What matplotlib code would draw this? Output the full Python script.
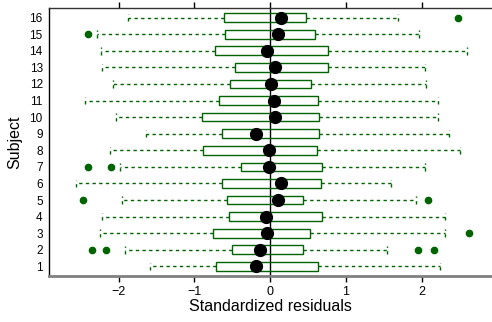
import matplotlib
matplotlib.use("Agg")
import matplotlib.pyplot as plt

subjects = list(range(1, 17))
whislo = [-1.59, -1.92, -2.25, -2.22, -1.95, -2.56, -1.98, -2.11, -1.64, -2.04, -2.45, -2.07, -2.22, -2.23, -2.29, -1.88]
q1     = [-0.71, -0.51, -0.76, -0.54, -0.57, -0.64, -0.38, -0.89, -0.64, -0.90, -0.68, -0.53, -0.46, -0.73, -0.60, -0.61]
med    = [-0.18, -0.13, -0.04, -0.05, 0.10, 0.15, -0.01, -0.01, -0.19, 0.06, 0.05, 0.01, 0.07, -0.04, 0.10, 0.14]
q3     = [0.63, 0.43, 0.53, 0.69, 0.43, 0.67, 0.69, 0.62, 0.65, 0.65, 0.63, 0.54, 0.76, 0.76, 0.59, 0.47]
whishi = [2.24, 1.54, 2.31, 2.31, 1.92, 1.60, 2.04, 2.51, 2.36, 2.22, 2.22, 2.06, 2.04, 2.60, 1.96, 1.69]
fliers = [[], [-2.35, -2.17, 1.95, 2.17], [2.63], [], [-2.47, 2.09], [], [-2.40, -2.10], [],
          [], [], [], [], [], [], [-2.40], [2.48]]
xticks = [-2, -1, 0, 1, 2]

green = "#006400"
plt.rcParams['font.family'] = ['Liberation Sans', 'DejaVu Sans']

fig = plt.figure(figsize=(4.92, 3.22), dpi=100)
ax = fig.add_axes([49/492, 46/322, 443/492, 268/322])

stats = []
for i in range(len(subjects)):
    stats.append(dict(med=med[i], q1=q1[i], q3=q3[i], whislo=whislo[i],
                      whishi=whishi[i], fliers=fliers[i], label=str(subjects[i])))

ax.axvline(0, color="black", lw=1, zorder=1)
ax.bxp(stats, positions=subjects, vert=False, widths=0.52, capwidths=0.45,
       patch_artist=True,
       boxprops=dict(facecolor="none", edgecolor=green, lw=1),
       whiskerprops=dict(color=green, lw=1, linestyle=(0, (2.4, 2.4))),
       capprops=dict(color=green, lw=1, linestyle=(0, (2.4, 2.4))),
       medianprops=dict(lw=0),
       flierprops=dict(marker='o', markerfacecolor=green, markeredgecolor=green,
                       markersize=4.5, linestyle='none'),
       zorder=2)
ax.plot(med, subjects, 'o', color='black', markersize=8.5, zorder=4)

ax.set_xlim(-2.92, 2.93)
ax.set_ylim(0.42, 16.58)
ax.set_xticks(xticks)
ax.set_yticks(subjects)
ax.set_yticklabels([str(s) for s in subjects])

ax.spines['right'].set_visible(False)
ax.spines['bottom'].set_color('#808080')
ax.spines['bottom'].set_linewidth(2)
ax.spines['left'].set_color('black')
ax.spines['left'].set_linewidth(1)
ax.spines['top'].set_color('#333333')
ax.spines['top'].set_linewidth(1)

ax.tick_params(axis='x', which='both', direction='out', length=4, width=1,
               top=True, labeltop=False, labelsize=9, pad=3, color='black')
ax.tick_params(axis='y', length=0, labelsize=8.5, pad=4.5)

ax.set_xlabel("Standardized residuals", fontsize=11.5, labelpad=1)
ax.set_ylabel("Subject", fontsize=11.5, labelpad=5)

fig.savefig("out.png", dpi=100)
